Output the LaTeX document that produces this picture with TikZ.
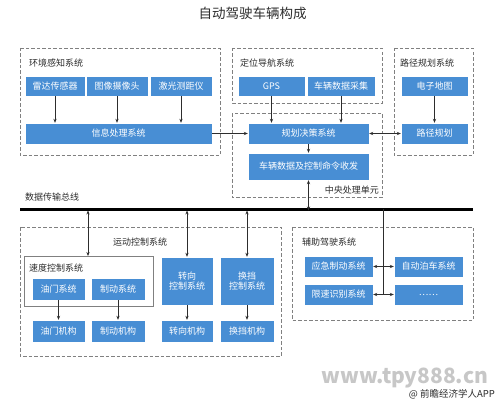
\documentclass[tikz,border=0pt]{standalone}
\usepackage{fontspec}
\setmainfont{Noto Sans CJK SC}
\usetikzlibrary{arrows.meta}
\definecolor{bl}{RGB}{72,142,212}
\definecolor{dg}{RGB}{128,128,128}
\definecolor{tx}{RGB}{45,45,45}
\tikzset{
  bbox/.style={fill=bl, draw=white, line width=0.4pt, text=white, font=\fontsize{9}{10}\selectfont, inner sep=0pt, align=center},
  dbox/.style={draw=dg, dashed, dash pattern=on 3.5pt off 2pt, line width=0.9pt},
  lbl/.style={text=tx, font=\fontsize{9}{10}\selectfont, inner sep=0pt, anchor=west},
  arr/.style={-{Stealth[length=4pt,width=3.2pt]}, line width=0.7pt, draw=tx},
  darr/.style={{Stealth[length=4pt,width=3.2pt]}-{Stealth[length=4pt,width=3.2pt]}, line width=0.7pt, draw=tx},
}
\begin{document}
\begin{tikzpicture}[x=1pt,y=-1pt]
\useasboundingbox (0,0) rectangle (500,404);
\fill[white] (0,0) rectangle (500,404);
% title
\node[text=tx, font=\fontsize{13.5}{15}\selectfont, inner sep=0pt] (title) at (252.5,13) {自动驾驶车辆构成};
% dashed groups
\draw[dbox] (20,48) rectangle (220,155);
\draw[dbox] (232,48) rectangle (382,103);
\draw[dbox] (232,113) rectangle (382,197);
\draw[dbox] (394,48) rectangle (473,155);
\draw[dbox] (20,227) rectangle (281,356);
\draw[dbox] (292,227) rectangle (473,320);
\draw[draw=dg, line width=0.9pt] (24,256) rectangle (153,306);
% group labels
\node[lbl] (l1) at (29,63) {环境感知系统};
\node[lbl] (l2) at (240,63) {定位导航系统};
\node[lbl] (l3) at (400,63) {路径规划系统};
\node[lbl, anchor=east] (l4) at (379,190) {中央处理单元};
\node[lbl] (l5) at (25,197) {数据传输总线};
\node[lbl, anchor=center] (l6) at (140,242) {运动控制系统};
\node[lbl] (l7) at (29,268) {速度控制系统};
\node[lbl] (l8) at (302,242) {辅助驾驶系统};
% blue boxes top
\node[bbox, minimum width=60, minimum height=20] (radar) at (55,86) {雷达传感器};
\node[bbox, minimum width=62, minimum height=20] (cam) at (117,86) {图像摄像头};
\node[bbox, minimum width=62, minimum height=20] (laser) at (181,86) {激光测距仪};
\node[bbox, minimum width=187, minimum height=21] (info) at (118.5,133.5) {信息处理系统};
\node[bbox, minimum width=67, minimum height=20] (gps) at (271.5,86) {GPS};
\node[bbox, minimum width=68, minimum height=20] (vdc) at (341,86) {车辆数据采集};
\node[bbox, minimum width=121, minimum height=21] (plan) at (308.5,133.5) {规划决策系统};
\node[bbox, minimum width=121, minimum height=27] (cmd) at (308.5,166.5) {车辆数据及控制命令收发};
\node[bbox, minimum width=67, minimum height=20] (map) at (434.5,86) {电子地图};
\node[bbox, minimum width=67, minimum height=21] (route) at (434.5,133.5) {路径规划};
% motion control
\node[bbox, minimum width=53, minimum height=22] (oil) at (58.5,289) {油门系统};
\node[bbox, minimum width=54, minimum height=22] (brake) at (118,289) {制动系统};
\node[bbox, minimum width=52, minimum height=48] (steer) at (187,281) {转向\\控制系统};
\node[bbox, minimum width=54, minimum height=48] (shift) at (247,281) {换挡\\控制系统};
\node[bbox, minimum width=53, minimum height=22] (oilm) at (58.5,331) {油门机构};
\node[bbox, minimum width=54, minimum height=22] (brakem) at (118,331) {制动机构};
\node[bbox, minimum width=52, minimum height=22] (steerm) at (187,331) {转向机构};
\node[bbox, minimum width=54, minimum height=22] (shiftm) at (247,331) {换挡机构};
% assist
\node[bbox, minimum width=69, minimum height=21] (emerg) at (338.5,266.5) {应急制动系统};
\node[bbox, minimum width=69, minimum height=21] (slim) at (338.5,294.5) {限速识别系统};
\node[bbox, minimum width=69, minimum height=21] (park) at (428.5,266.5) {自动泊车系统};
\node[bbox, minimum width=69, minimum height=21] (dots) at (428.5,294.5) {……};
% speed box anchor
\coordinate (spd) at (88,256);
% bus
\coordinate (busL) at (20,209);
\coordinate (busR) at (473,209);
\draw[line width=3pt, draw=black] (busL) -- (busR);
\coordinate (b1) at (88,210.5);
\coordinate (b2) at (187,210.5);
\coordinate (b3) at (247,210.5);
\coordinate (b4) at (308.5,210.5);
\coordinate (b5) at (383,209);
\coordinate (j1) at (383,294.5);
% arrows top
\draw[arr] (radar.south) -- (radar.south |- info.north);
\draw[arr] (cam.south) -- (cam.south |- info.north);
\draw[arr] (laser.south) -- (laser.south |- info.north);
\draw[arr] (gps.south) -- (gps.south |- plan.north);
\draw[arr] (vdc.south) -- (vdc.south |- plan.north);
\draw[arr] (plan.south) -- (cmd.north);
\draw[arr] (info.east) -- (plan.west);
\draw[darr] (plan.east) -- (route.west);
\draw[arr] (map.south) -- (route.north);
\draw[darr] (cmd.south) -- (b4);
% bus to motion
\draw[darr] (b1) -- (spd);
\draw[darr] (b2) -- (steer.north);
\draw[darr] (b3) -- (shift.north);
\draw[arr] (oil.south) -- (oilm.north);
\draw[arr] (brake.south) -- (brakem.north);
\draw[arr] (steer.south) -- (steerm.north);
\draw[arr] (shift.south) -- (shiftm.north);
% assist
\draw[line width=0.9pt, draw=tx] (b5) -- (j1);
\draw[darr] (emerg.east) -- (park.west);
\draw[darr] (slim.east) -- (dots.west);
% watermark texts
\node[text=black!22, font=\fontsize{21}{22}\selectfont\bfseries, inner sep=0pt] (wm) at (405,378) {www.tpy888.cn};
\node[text=tx, font=\fontsize{9.5}{10}\selectfont, inner sep=0pt, anchor=east] (wm2) at (495,394) {@ 前瞻经济学人APP};
\end{tikzpicture}
\end{document}
